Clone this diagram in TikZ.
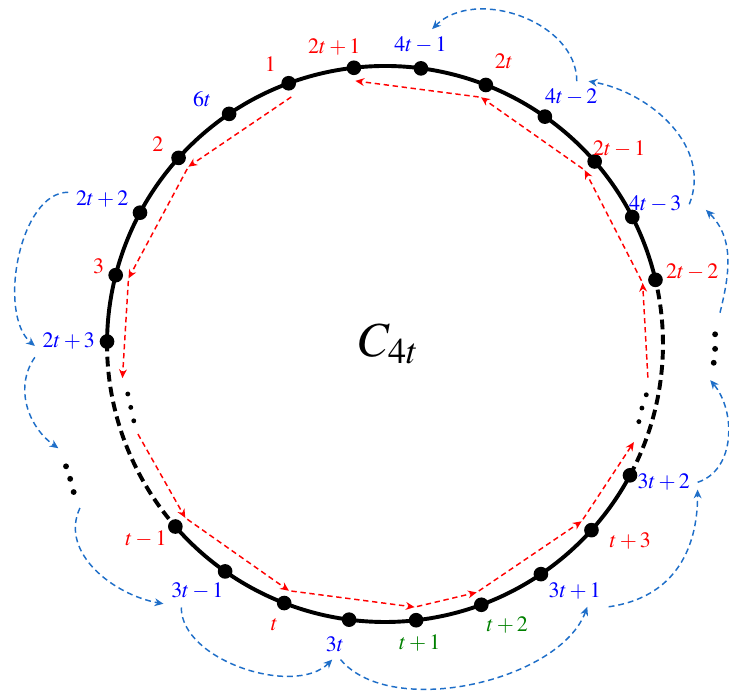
\documentclass[tikz,border=0pt]{standalone}
\usepackage{mathptmx}
\usetikzlibrary{arrows.meta}
\definecolor{arcblue}{RGB}{30,110,200}
\definecolor{labgreen}{RGB}{0,128,0}

\begin{document}
\begin{tikzpicture}[
  vtx/.style={circle, fill=black, inner sep=0pt, minimum size=6pt},
  lab/.style={font=\small, inner sep=3pt},
  ring/.style={line width=1.6pt},
  ringgap/.style={line width=1.6pt, dash pattern=on 4pt off 2.2pt},
  redpath/.style={red, line width=0.6pt, dash pattern=on 2.2pt off 1.5pt, -{Stealth[length=3.6pt,width=3.2pt]}, shorten <=1pt},
  bluepath/.style={arcblue, line width=0.6pt, dash pattern=on 2.4pt off 1.6pt, -{Stealth[length=3.6pt,width=3.2pt]}}
]
\useasboundingbox (-5.54,-5.12) rectangle (4.95,4.95);

\draw[ring] (13.35:4) arc[start angle=13.35, end angle=179.5, radius=4];
\draw[ring] (-138.96:4) arc[start angle=-138.96, end angle=-28.19, radius=4];
\draw[ringgap] (-28.19:4) arc[start angle=-28.19, end angle=13.35, radius=4];
\draw[ringgap] (179.5:4) arc[start angle=179.5, end angle=221.04, radius=4];

\foreach \i in {0,...,12,15,16,...,23} {
  \node[vtx] (v\i) at ({179.5-13.846*\i}:4) {};
  \coordinate (w\i) at ({179.5-13.846*\i}:3.81);
}
\coordinate (wl1) at (187.4:3.81);
\coordinate (wl2) at (199.5:3.79);
\coordinate (wr1) at (-21.5:3.85);
\coordinate (wr2) at (-7.8:3.82);
\coordinate (lo1) at (-4.70,-1.50);
\coordinate (lo2) at (-4.39,-2.36);
\coordinate (ro1) at (4.68,-0.52);
\coordinate (ro2) at (4.82,0.45);

\node[font=\fontsize{20}{24}\selectfont] (c4t) at (0.06,0) {$C_{4t}$};

\node[lab, blue] (l0) at (-4.55,0.04) {$2t+3$};
\node[lab, red] (l1) at (-4.12,1.12) {$3$};
\node[lab, blue] (l2) at (-4.07,2.08) {$2t+2$};
\node[lab, red] (l3) at (-3.27,2.88) {$2$};
\node[lab, blue] (l4) at (-2.63,3.53) {$6t$};
\node[lab, red] (l5) at (-1.65,4.03) {$1$};
\node[lab, red] (l6) at (-0.73,4.27) {$2t+1$};
\node[lab, blue] (l7) at (0.51,4.30) {$4t-1$};
\node[lab, red] (l8) at (1.71,4.07) {$2t$};
\node[lab, blue] (l9) at (2.68,3.55) {$4t-2$};
\node[lab, red] (l10) at (3.37,2.81) {$2t-1$};
\node[lab, blue] (l11) at (3.89,2.01) {$4t-3$};
\node[lab, red] (l12) at (4.42,1.03) {$2t-2$};
\node[lab, blue] (l15) at (4.01,-1.99) {$3t+2$};
\node[lab, red] (l16) at (3.53,-2.84) {$t+3$};
\node[lab, blue] (l17) at (2.73,-3.55) {$3t+1$};
\node[lab, labgreen] (l18) at (1.76,-4.04) {$t+2$};
\node[lab, labgreen] (l19) at (0.50,-4.31) {$t+1$};
\node[lab, blue] (l20) at (-0.72,-4.32) {$3t$};
\node[lab, red] (l21) at (-1.59,-4.04) {$t$};
\node[lab, blue] (l22) at (-2.70,-3.56) {$3t-1$};
\node[lab, red] (l23) at (-3.44,-2.80) {$t-1$};

\draw[redpath] (w5) -- (w3);
\draw[redpath] (w3) -- (w1);
\draw[redpath] (w1) -- (wl1);
\draw[redpath] (wl2) -- (w23);
\draw[redpath] (w23) -- (w21);
\draw[redpath] (w21) -- (w19);
\draw[redpath] (w19) -- (w18);
\draw[redpath] (w18) -- (w16);
\draw[redpath] (w16) -- (wr1);
\draw[redpath] (wr2) -- (w12);
\draw[redpath] (w12) -- (w10);
\draw[redpath] (w10) -- (w8);
\draw[redpath] (w8) -- (w6);

\draw[bluepath] (l2.168) to[out=180,in=140,looseness=0.8] (l0.188);
\draw[bluepath] (l0.south west) to[out=235,in=145] (lo1);
\draw[bluepath] (lo2) to[out=245,in=170] (l22.200);
\draw[bluepath] (l22.225) to[out=270,in=225,looseness=0.85] (l20.260);
\draw[bluepath] (l20.290) to[out=-50,in=250,looseness=0.8] (l17.-52);
\draw[bluepath] (l17.south east) to[out=8,in=270,looseness=1.1] (l15.-12);
\draw[bluepath] (l15.east) to[out=18,in=-50] (ro1);
\draw[bluepath] (ro2) to[out=76,in=-45] ([shift={(0.24,-0.08)}]l11.east);
\draw[bluepath] (l11.east) to[out=68,in=-10] (l9.43);
\draw[bluepath] (l9.71) to[out=90,in=45] (l7.54);

\fill (191:3.77) circle (1pt);
\fill (194:3.77) circle (1pt);
\fill (197:3.78) circle (1pt);
\fill (-17:3.82) circle (1pt);
\fill (-14:3.81) circle (1pt);
\fill (-11:3.83) circle (1pt);
\fill (-4.59,-1.76) circle (1.2pt);
\fill (-4.53,-1.94) circle (1.2pt);
\fill (-4.48,-2.13) circle (1.2pt);
\fill (4.75,0.14) circle (1.2pt);
\fill (4.75,-0.07) circle (1.2pt);
\fill (4.73,-0.27) circle (1.2pt);
\end{tikzpicture}
\end{document}
